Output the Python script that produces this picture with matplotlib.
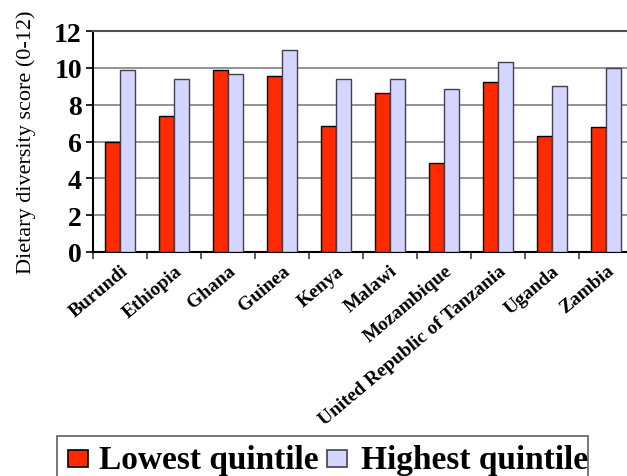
import matplotlib.pyplot as plt
import matplotlib.patches as mpatches
import numpy as np

plt.rcParams['font.family'] = ['Liberation Serif', 'DejaVu Serif']

countries = ['Burundi', 'Ethiopia', 'Ghana', 'Guinea', 'Kenya', 'Malawi',
             'Mozambique', 'United Republic of Tanzania', 'Uganda', 'Zambia']
lowest = [6.0, 7.37, 9.88, 9.54, 6.86, 8.62, 4.85, 9.21, 6.30, 6.80]
highest = [9.88, 9.39, 9.65, 10.97, 9.39, 9.39, 8.83, 10.31, 9.01, 10.0]
yticks = [0, 2, 4, 6, 8, 10, 12]

W, H = 627, 477
fig = plt.figure(figsize=(W / 100, H / 100), dpi=100)
# axes run slightly past the right edge, so the frame is cut off there
ax = fig.add_axes([93 / W, 1 - 253 / H, 540 / W, 221 / H])

red = '#ff2a00'
lav = '#d4d6ff'
bw = 0.278
x = np.arange(len(countries)) + 0.5
ax.bar(x - bw / 2, lowest, bw, color=red, edgecolor='black', linewidth=1.0, zorder=3)
ax.bar(x + bw / 2, highest, bw, color=lav, edgecolor='#404050', linewidth=1.0, zorder=3)

ax.set_xlim(0, len(countries))
ax.set_ylim(0, 12)
ax.set_yticks(yticks)
ax.set_yticklabels([str(v) for v in yticks], fontsize=20, fontweight='bold')
ax.yaxis.grid(True, color='#808080', linewidth=1.2, zorder=0)
ax.set_axisbelow(True)

ax.set_xticks(np.arange(len(countries) + 1))
ax.set_xticklabels([])
ax.set_xticks(x, minor=True)
ax.set_xticklabels(countries, minor=True, rotation=40, ha='right', va='top',
                   rotation_mode='anchor', fontsize=14, fontweight='bold')
ax.tick_params(axis='x', which='minor', length=0, pad=7)
ax.tick_params(axis='x', which='major', length=5, width=1.2, direction='out',
               color='#404040')
ax.tick_params(axis='y', length=5, width=1.2, direction='out', pad=3)

for s in ['left', 'bottom']:
    ax.spines[s].set_linewidth(1.5)
    ax.spines[s].set_color('black')
ax.spines['right'].set_visible(False)
ax.spines['top'].set_color('#505050')
ax.spines['top'].set_linewidth(1.5)

ax.set_ylabel('Dietary diversity score (0-12)', fontsize=16)
ax.yaxis.set_label_coords(-0.106, 0.5)

# legend box, text clipped by its frame
box = mpatches.Rectangle((57 / W, 1 - 500 / H), (588 - 57) / W, 63 / H,
                         transform=fig.transFigure, facecolor='white',
                         edgecolor='#606060', linewidth=1.2, zorder=1)
fig.add_artist(box)
legend_items = [('Lowest quintile', red, 'black', 68, 99),
                ('Highest quintile', lav, '#404050', 327, 361)]
for label, fc, ec, sx, tx in legend_items:
    t = fig.text(tx / W, 1 - 469 / H, label, fontsize=24, fontweight='bold',
                 ha='left', va='baseline', zorder=2)
    t.set_clip_path(box)
for label, fc, ec, sx, tx in legend_items:
    sq = mpatches.Rectangle((sx / W, 1 - 468 / H), 20 / W, 17 / H,
                            transform=fig.transFigure, facecolor=fc,
                            edgecolor=ec, linewidth=1.2, zorder=3)
    fig.add_artist(sq)

fig.savefig('out.png', dpi=100)
